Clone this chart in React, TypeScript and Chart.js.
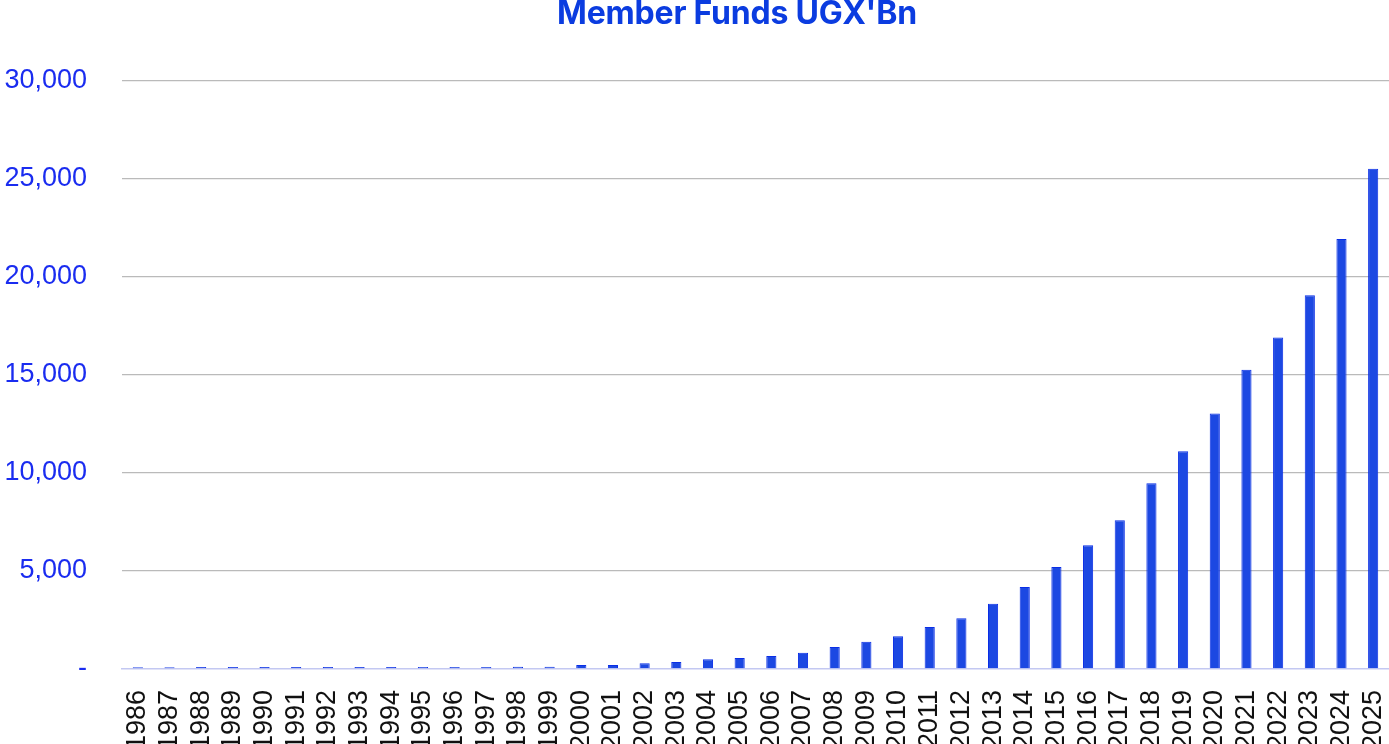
import React, { useEffect, useRef } from "react";
import { Chart, registerables } from "chart.js";

Chart.register(...registerables);

const years: string[] = [
  "1986", "1987", "1988", "1989", "1990", "1991", "1992", "1993", "1994", "1995",
  "1996", "1997", "1998", "1999", "2000", "2001", "2002", "2003", "2004", "2005",
  "2006", "2007", "2008", "2009", "2010", "2011", "2012", "2013", "2014", "2015",
  "2016", "2017", "2018", "2019", "2020", "2021", "2022", "2023", "2024", "2025",
];

const memberFunds: number[] = [
  90, 90, 95, 95, 95, 100, 100, 100, 100, 105,
  105, 105, 110, 110, 200, 200, 290, 350, 490, 560,
  660, 830, 1120, 1390, 1670, 2140, 2590, 3330, 4180, 5200,
  6310, 7590, 9475, 11105, 13030, 15270, 16915, 19065, 21935, 25525,
];

const yTicks: number[] = [0, 5000, 10000, 15000, 20000, 25000, 30000];

const titleText = "Member Funds UGX'Bn";

export default function App() {
  const canvasRef = useRef<HTMLCanvasElement | null>(null);

  useEffect(() => {
    const canvas = canvasRef.current;
    if (!canvas) return;
    const chart = new Chart(canvas, {
      type: "bar",
      data: {
        labels: years,
        datasets: [
          {
            label: "Member Funds",
            data: memberFunds,
            backgroundColor: "#1c48e2",
            borderColor: "#0a2ee6",
            borderWidth: 1,
            barPercentage: 0.32,
            categoryPercentage: 1,
          },
        ],
      },
      options: {
        responsive: false,
        animation: false,
        layout: { padding: { top: 81, left: 0, right: 0, bottom: 0 } },
        plugins: {
          legend: { display: false },
          title: { display: false },
          tooltip: { enabled: false },
        },
        scales: {
          x: {
            grid: { display: false, drawTicks: false },
            border: { display: true, color: "#c3c8f2", width: 1.5 },
            ticks: {
              color: "#111111",
              font: { family: "'Liberation Sans', Arial, sans-serif", size: 27 },
              minRotation: 90,
              maxRotation: 90,
              padding: 21,
              autoSkip: false,
            },
            afterFit: (scale: any) => {
              scale.paddingLeft = 0;
              scale.paddingRight = 0;
            },
          },
          y: {
            min: 0,
            max: 30000,
            afterBuildTicks: (scale: any) => {
              scale.ticks = yTicks.map((v) => ({ value: v }));
            },
            afterFit: (scale: any) => {
              scale.width = 122;
              scale.paddingTop = 0;
              scale.paddingBottom = 0;
            },
            grid: {
              color: (ctx: any) => (ctx.tick && ctx.tick.value === 0 ? "rgba(0,0,0,0)" : "#bababa"),
              drawTicks: false,
              lineWidth: 1.2,
            },
            border: { display: false },
            ticks: {
              color: "#1a2cf0",
              font: { family: "'Liberation Sans', Arial, sans-serif", size: 27 },
              padding: 35,
              callback: (v: any) => (Number(v) === 0 ? "-" : Number(v).toLocaleString("en-US")),
            },
          },
        },
      },
    });
    return () => chart.destroy();
  }, []);

  return (
    <div
      style={{
        position: "fixed",
        left: 0,
        top: 0,
        width: 1389,
        height: 744,
        overflow: "hidden",
        background: "#ffffff",
      }}
    >
      <canvas
        ref={canvasRef}
        width={1389}
        height={771}
        style={{ position: "absolute", left: 0, top: 0, width: 1389, height: 771 }}
      />
      <div
        style={{
          position: "absolute",
          top: -7,
          left: 737,
          transform: "translateX(-50%)",
          whiteSpace: "nowrap",
          fontFamily: "Inter, sans-serif",
          fontWeight: 700,
          fontSize: 32,
          color: "#0b3ce0",
          letterSpacing: "-0.2px",
        }}
      >
        {titleText}
      </div>
    </div>
  );
}
